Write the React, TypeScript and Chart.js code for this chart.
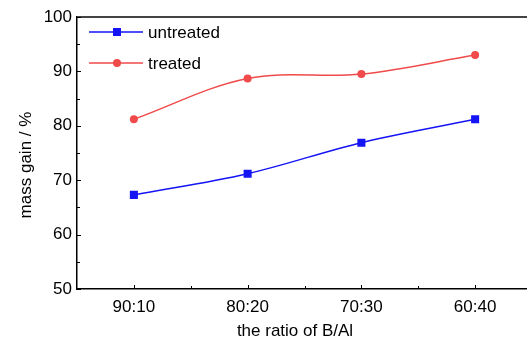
import React, { useEffect, useRef } from "react";
import { Chart, registerables } from "chart.js";

Chart.register(...registerables);

const categories = ["90:10", "80:20", "70:30", "60:40"];
const untreated = [67.3, 71.2, 76.9, 81.2];
const treated = [81.2, 88.7, 89.5, 93.0];
const yTicks = [50, 60, 70, 80, 90, 100];
const yMinorTicks = [55, 65, 75, 85, 95];

const FONT = "'Liberation Sans', Arial, sans-serif";
const BLUE = "#1414f5";
const RED = "#f04a4a";

const decorPlugin = {
  id: "decor",
  afterDraw(chart: any) {
    const { ctx, chartArea, scales } = chart;
    const x = scales.x;
    const y = scales.y;
    ctx.save();
    // top border
    ctx.strokeStyle = "#444";
    ctx.lineWidth = 2;
    ctx.beginPath();
    ctx.moveTo(chartArea.left, chartArea.top);
    ctx.lineTo(chartArea.right + 10, chartArea.top);
    ctx.stroke();
    // inward ticks
    ctx.strokeStyle = "#000";
    ctx.lineWidth = 1;
    yTicks.forEach((v) => {
      const py = Math.round(y.getPixelForValue(v)) + 0.5;
      ctx.beginPath();
      ctx.moveTo(chartArea.left, py);
      ctx.lineTo(chartArea.left + 4, py);
      ctx.stroke();
    });
    yMinorTicks.forEach((v) => {
      const py = Math.round(y.getPixelForValue(v)) + 0.5;
      ctx.beginPath();
      ctx.moveTo(chartArea.left, py);
      ctx.lineTo(chartArea.left + 3, py);
      ctx.stroke();
    });
    categories.forEach((_, i) => {
      const px = Math.round(x.getPixelForValue(i)) + 0.5;
      ctx.beginPath();
      ctx.moveTo(px, chartArea.bottom);
      ctx.lineTo(px, chartArea.bottom - 4);
      ctx.stroke();
      const mx = Math.round(x.getPixelForValue(i + 0.5)) + 0.5;
      ctx.beginPath();
      ctx.moveTo(mx, chartArea.bottom);
      ctx.lineTo(mx, chartArea.bottom - 3);
      ctx.stroke();
    });
    // axis titles
    ctx.fillStyle = "#000";
    ctx.font = `17px ${FONT}`;
    ctx.textAlign = "center";
    ctx.textBaseline = "middle";
    ctx.fillText("the ratio of B/Al", 295, 331);
    ctx.save();
    ctx.translate(26, 165);
    ctx.rotate(-Math.PI / 2);
    ctx.fillText("mass gain / %", 0, 0);
    ctx.restore();
    // legend
    const items = [
      { label: "untreated", color: BLUE, style: "rect", y: 32 },
      { label: "treated", color: RED, style: "circle", y: 63 },
    ];
    items.forEach((it) => {
      ctx.strokeStyle = it.color;
      ctx.lineWidth = 1.5;
      ctx.beginPath();
      ctx.moveTo(89, it.y);
      ctx.lineTo(143, it.y);
      ctx.stroke();
      ctx.fillStyle = it.color;
      if (it.style === "rect") {
        ctx.fillRect(117 - 4, it.y - 4, 8, 8);
      } else {
        ctx.beginPath();
        ctx.arc(117, it.y, 4, 0, Math.PI * 2);
        ctx.fill();
      }
      ctx.fillStyle = "#000";
      ctx.textAlign = "left";
      ctx.fillText(it.label, 148, it.y + 1);
    });
    ctx.restore();
  },
};

export default function App() {
  const ref = useRef<HTMLCanvasElement>(null);
  useEffect(() => {
    const chart = new Chart(ref.current as HTMLCanvasElement, {
      type: "line",
      data: {
        labels: categories,
        datasets: [
          {
            label: "untreated",
            data: untreated,
            borderColor: BLUE,
            backgroundColor: BLUE,
            borderWidth: 1.5,
            pointStyle: "rect",
            pointRadius: 5.7,
            pointBorderWidth: 0,
            tension: 0.35,
          },
          {
            label: "treated",
            data: treated,
            borderColor: RED,
            backgroundColor: RED,
            borderWidth: 1.5,
            pointStyle: "circle",
            pointRadius: 4,
            pointBorderWidth: 0,
            tension: 0.35,
          },
        ],
      },
      options: {
        animation: false,
        responsive: false,
        maintainAspectRatio: false,
        layout: { padding: { left: 0, top: 17, right: 8, bottom: 0 } },
        plugins: { legend: { display: false }, tooltip: { enabled: false } },
        scales: {
          x: {
            type: "category",
            offset: true,
            grid: { display: false, drawTicks: false },
            border: { display: true, color: "#000", width: 1.5 },
            ticks: { color: "#000", font: { family: FONT, size: 17 }, padding: 8 },
            afterFit: (s: any) => {
              s.height = 53;
            },
          },
          y: {
            min: 50,
            max: 100,
            grid: { display: false, drawTicks: false },
            border: { display: true, color: "#000", width: 1.5 },
            ticks: { stepSize: 10, color: "#000", font: { family: FONT, size: 17 }, padding: 5 },
            afterFit: (s: any) => {
              s.width = 77;
            },
          },
        },
      },
      plugins: [decorPlugin],
    });
    return () => chart.destroy();
  }, []);
  return (
    <div
      style={{
        position: "fixed",
        left: 0,
        top: 0,
        width: 527,
        height: 342,
        overflow: "hidden",
        background: "#fff",
      }}
    >
      <canvas ref={ref} width={540} height={342} style={{ display: "block" }} />
    </div>
  );
}
